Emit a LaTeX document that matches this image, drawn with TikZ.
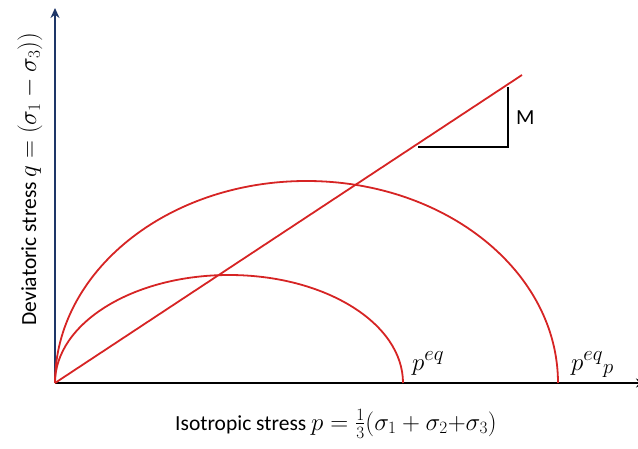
\documentclass[tikz,border=0pt]{standalone}
\usepackage{fontspec}
\setmainfont{Carlito}
\usepackage{amsmath}
\usetikzlibrary{positioning}
\usetikzlibrary{arrows.meta}
\definecolor{yieldred}{RGB}{214,36,36}
\definecolor{axisblue}{RGB}{30,54,104}
\newcommand{\mathbig}[1]{{\fontsize{25}{29}\selectfont$#1$}}
\tikzset{
    yield/.style={yieldred, line width=1.8pt},
    axisline/.style={line width=1.5pt, -{Stealth[length=10pt,width=9pt]}},
    lbl/.style={font=\fontsize{21.5}{25}\selectfont, inner sep=0pt},
    ptlbl/.style={font=\fontsize{28}{32}\selectfont, inner sep=0pt, anchor=base west},
}

\begin{document}
\begin{tikzpicture}[x=1pt, y=1pt]
    \useasboundingbox (0,0) rectangle (638,448);

    % axes
    \coordinate (O) at (55,65);
    \coordinate (qtop) at (55,440);
    \coordinate (pend) at (646,65);
    \draw[axisline, axisblue] (O) -- (qtop);
    \draw[axisline, black] (O) -- (pend);

    % yield surfaces
    \draw[yield] (O) arc[start angle=180, end angle=0, x radius=174, y radius=108] coordinate (peq);
    \draw[yield] (O) arc[start angle=180, end angle=0, x radius=251.5, y radius=202] coordinate (peqp);

    % critical state line
    \coordinate (csl) at (522,373);
    \draw[yield] (O) -- (csl);

    % slope triangle
    \coordinate (t1) at (418,301);
    \coordinate (t2) at (508,301);
    \coordinate (t3) at (508,361);
    \draw[line width=1.2pt] (t1) -- (t2) -- (t3);
    \node[lbl, anchor=west] (slope) at (516,330) {M};

    % labels
    \node[ptlbl] (peqlbl) at (412,78) {$p^{eq}$};
    \node[ptlbl] (peqplbl) at (571,78) {$p^{eq}{}_{p}$};
    \node[lbl] (plbl) at (336,24) {Isotropic stress \mathbig{p=\tfrac{1}{3}(\sigma_1+\sigma_2{+}\sigma_3)}};
    \node[lbl, rotate=90] (qlbl) at (30,269) {Deviatoric stress \mathbig{q=(\sigma_1-\sigma_3))}};
\end{tikzpicture}
\end{document}
